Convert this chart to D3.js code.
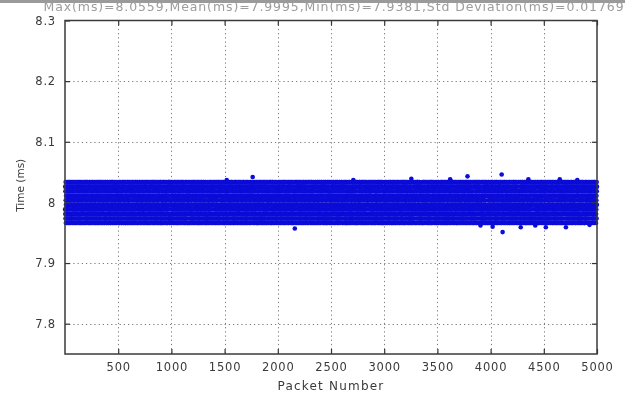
<!DOCTYPE html>
<html><head><meta charset="utf-8">
<script src="https://cdn.jsdelivr.net/npm/d3@7"></script>
<style>
html,body{margin:0;padding:0;background:#fff;}
svg{display:block;filter:blur(0.5px);}
</style>
</head><body>
<svg id="chart" width="625" height="406"></svg>
<script>
const titleText = "Max(ms)=8.0559,Mean(ms)=7.9995,Min(ms)=7.9381,Std Deviation(ms)=0.01769";
const xLabel = "Packet Number";
const yLabel = "Time (ms)";
const xTicks = [500, 1000, 1500, 2000, 2500, 3000, 3500, 4000, 4500, 5000];
const yTicks = [7.8, 7.9, 8, 8.1, 8.2, 8.3];
const yTickLabels = ["7.8", "7.9", "8", "8.1", "8.2", "8.3"];

// quantised time levels (ms) seen in the band; each digit below is one packet's level
const levelValues = [7.966, 7.9735, 7.981, 7.9885, 7.996, 8.0035, 8.011, 8.0185, 8.026, 8.0335];

const band1 = ["38271950466183027945512873096634198027563819402756","91846203575119284736028591463720958136647205981342","05739218466027351894420683917556281904736159028473","64109852373846015927738205619483025746918360572194","27593018644719362508831746025939570148268301947563","80416297355192740683264918307551830647292584013769","13685740291074963825568201394779146205381693570428","59720318466382950147703815926464291837055172804936","42918605737650284193318572064901763952846250139784","96053871248219047365542810739688350271964738162505"].join("");
const band2 = ["17482950633095184726641937208551804629377216035984","83069521744851093627009374851663742180599520347618","25914736089064382751483126097757029481363819520746","70385219646931705824416298035790246871538057319462","49627083151820495736620853914784591362074630828195","36180547922678413950851079462350213849766547029318","02857361489483160259267530981448675092133095872641","61049287355732908416184209573626038751948702635190","98316025744361085927730564912836925146087541293076","54792618303028746159592867310499101478625984310752"].join("");
const band3 = ["29058417366197438025837160294551892736044672931058","84630192571428056379603897154262317054986150379842","47193825609873612405158246037981043962715839260574","10625738945036890417726504391378264830519265081739","63817204592159743608649102873585741692036428197350","35072948161740829365017385264993052718648563017924","78491053627382694105264930187410387624159701846235","02346871954906137582395718602476910458327284759106","56189427303865029147462501938623582960174947018362","91730564288127946350873948261540736189402519634087"].join("");
const band4 = ["40258136979273501648316027594871962405837106392854","87614092533059846712597843016226481035970648215739","13907528466841290357045196738351379204868392541076","69385210744217683059862450917395704168232758396104","25041867391650932784418736250962857403116094827563","72896345108934718652675901843228061395747382150946","08153976420586204917130864759384612058931925784061","51674029387460583129943218605716948327050638912475","36928750143147820596576942318029471590368204576139","94510682376803249517203581794663205841729571063284"].join("");
const band5 = ["61827345900492376815847061932573018426597138240956","28465109735831904762390528147664732915083624197508","75039618249167843250658943710239518604271390562874","03714286595320657914172869305482094867315742089631","49281053768975210384536012879456830291746053918247","86570431923048169527261785034910472639584206731592","12938647055716492083917430628573619057428168205439","57024913868265307149048296175342306158947531906728","30651829744392186570723561948018285739061874352190","93486071522607439815309187526767941320658029167453"].join("");
const band6 = ["46190382575138240967829517364082653081947253609814","82735916403961570284157420893639127864502718432956","19562840738047398125634086219557490813266051978340","65018327496524061739782901564318023647915436702581","37847105629812953460268735491076584129037209816453","04293681557036419827941580263845396712058961347029","71659024382259083671316749052890471358246605721894","58306179244871620935627381940562718905473329085162","23184596070396827154051918463737654201896148539207","90478253169624150389780241359608219367054702416835"].join("");
const band7 = ["15724903688360947152498037615243057891624738150296","62083519474917382605032654981706382940571891624350","39561782040528716394856190247368194527036450287913","86245037916173059428216743098519730685249063512874","04917265389841520637679285130442508179361729046158","57389014263056234719194062857623816394502584703962","21708653949628971503538410926789465072183136582407","78136420591304685279062937145835091647325897241630","43652978106785340912871503694216723980451402963785","90521846374269758130345268719052438176209651038542"].join("");
const band8 = ["28470593161907285643732156409884271605934381965720","65913028474538691207169843025716309852147026354891","03758162949271306485604728193637546108293959120476","81246907351840592736357914680203918274650687342159","47093265180615873492289075136454062938715123609847","12685734096327149058940612837591587203649874135062","70349821653958206714513798240626734195082305286914","36125098477463918520076431589248925067346941708253","95871430264102543697831956720315169843502768943017","59410876321897620348263048915779301586423015697238"].join("");
const band9 = ["34706219581268095437925843106672543907812843061975","81592437060935714826017369258483187602954396284017","06248195734716329058643812597041952348761075923846","72913056847053128469286570341939015476238602149573","48360721951827904365509136782426793185042918637502","15087463293369415207763052891470148293765350471829","69231508746584273091148395627003652814097683915024","27496315082916038745632078154951730972148226740158","93658042177249561830079126438562385019634792561380","50124789363408176295481657930214967340852149873601"].join("");
const band10 = ["86302974510735689124963270518837219054682360491527","42917563087492130658518479263020968347125974806312","17540329682603948171056238407945831729604128365970","95682147304729615083742091586367024693158753290648","30469851727186302945624738910259381067246084173529","68234019574950738612073185496438056913472691520384","04791236856362807491831620975174695382013546209817","51840762939417256038986524310720783041695912784365","29175843602835019764250691837556209378541478032596","76023498151560472389417396205489467216830235619748"].join("");

// isolated packets outside the band
const outlierPackets = [1520, 1764, 2160, 2710, 3255, 3620, 3783, 3905, 4019, 4104, 4113, 4283, 4355, 4420, 4519, 4650, 4708, 4815, 4930];
const outlierValues  = [8.037, 8.042, 7.957, 8.037, 8.039, 8.038, 8.043, 7.962, 7.960, 8.046, 7.951, 7.959, 8.038, 7.962, 7.959, 8.038, 7.959, 8.037, 7.963];

const bands = [band1, band2, band3, band4, band5, band6, band7, band8, band9, band10];
const points = [];
let packet = 0;
bands.forEach(s => { for (const ch of s) { packet += 1; points.push({p: packet, t: levelValues[+ch]}); } });
outlierPackets.forEach((p, i) => points.push({p: p, t: outlierValues[i]}));

const svg = d3.select("#chart");
const L = 65, R = 597, T = 20.5, B = 354;
const x = d3.scaleLinear().domain([0, 5000]).range([L, R]);
const y = d3.scaleLinear().domain([7.75, 8.3]).range([B, T]);
const font = "'DejaVu Sans', Verdana, sans-serif";
const textCol = "#3a3a3a";

svg.append("rect").attr("x", 0).attr("y", 0).attr("width", 625).attr("height", 3).attr("fill", "#9a9a9a");

// grid
const grid = svg.append("g").attr("stroke", "#7a7a7a").attr("stroke-width", 1).attr("stroke-dasharray", "1.2,3");
grid.selectAll(".gx").data(xTicks.filter(v => v < 5000)).join("line")
  .attr("x1", d => Math.round(x(d)) + 0.5).attr("x2", d => Math.round(x(d)) + 0.5).attr("y1", T).attr("y2", B);
grid.selectAll(".gy").data(yTicks.filter(v => v < 8.3)).join("line")
  .attr("x1", L).attr("x2", R).attr("y1", d => Math.round(y(d)) + 0.5).attr("y2", d => Math.round(y(d)) + 0.5);

// data
svg.append("g").attr("fill", "#0c0cd8").selectAll("circle").data(points).join("circle")
  .attr("cx", d => x(d.p)).attr("cy", d => y(d.t)).attr("r", 2.3);

// axes (inward ticks, MATLAB style box)
const axB = d3.axisBottom(x).tickValues(xTicks).tickSize(-5).tickPadding(9).tickFormat(d3.format("d"));
const axT = d3.axisTop(x).tickValues(xTicks).tickSize(-5).tickFormat("");
const axL = d3.axisLeft(y).tickValues(yTicks).tickSize(-5).tickPadding(9).tickFormat((d, i) => yTickLabels[i]);
const axR = d3.axisRight(y).tickValues(yTicks).tickSize(-5).tickFormat("");
function style(g) {
  g.selectAll(".domain").remove();
  g.selectAll("line").attr("stroke", "#333").attr("stroke-width", 1.2);
  g.selectAll("text").attr("fill", textCol).style("font-family", font).style("font-size", "11.5px").style("letter-spacing", "0.8px");
}
svg.append("g").attr("transform", `translate(0,${B})`).call(axB).call(style);
svg.append("g").attr("transform", `translate(0,${T})`).call(axT).call(style);
svg.append("g").attr("transform", `translate(${L},0)`).call(axL).call(style);
svg.append("g").attr("transform", `translate(${R},0)`).call(axR).call(style);

svg.append("rect").attr("x", L).attr("y", T).attr("width", R - L).attr("height", B - T)
  .attr("fill", "none").attr("stroke", "#3a3a3a").attr("stroke-width", 1.5);

// labels
svg.append("text").attr("x", (L + R) / 2).attr("y", 390).attr("text-anchor", "middle")
  .attr("fill", textCol).style("font-family", font).style("font-size", "12px").style("letter-spacing", "1.2px").text(xLabel);
svg.append("text").attr("transform", `translate(24,${(T + B) / 2 - 2}) rotate(-90)`).attr("text-anchor", "middle")
  .attr("fill", textCol).style("font-family", font).style("font-size", "10.5px").text(yLabel);
svg.append("text").attr("x", 334).attr("y", 11).attr("text-anchor", "middle")
  .attr("fill", "#9c9c9c").style("font-family", font).style("font-size", "12.5px").style("letter-spacing", "0.9px").text(titleText);
</script>
</body></html>
